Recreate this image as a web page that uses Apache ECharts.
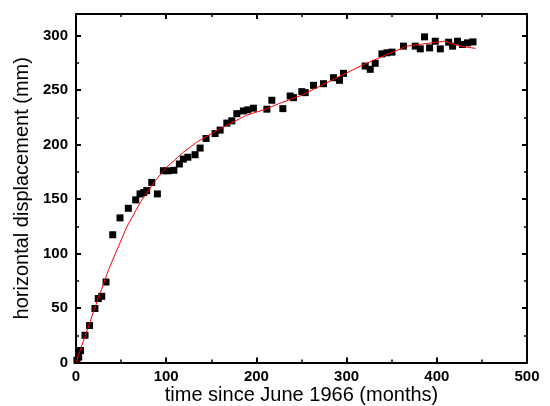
<!DOCTYPE html>
<html>
<head>
<meta charset="utf-8">
<script src="https://cdn.jsdelivr.net/npm/echarts@6/dist/echarts.min.js"></script>
<style>
html,body{margin:0;padding:0;background:#fff;}
#chart{width:550px;height:406px;}
</style>
</head>
<body>
<div id="chart"></div>
<script>
// measured horizontal displacement (mm) vs time (months since June 1966)
var obsMonths = [1, 3, 5, 10, 15, 21, 24.7, 28.5, 33.3, 40.7, 48.8, 58, 66.2, 71, 75, 78.4, 84, 90.2, 96.9, 102, 108.5,
  114.6, 119, 124, 132, 137.6, 144.2, 154.2, 159.8, 167.2, 172.7, 178.3, 185.6, 190.5, 196.7, 211.6, 217.1,
  229.3, 237.4, 241.1, 250.4, 254.1, 263.3, 274.4, 285.5, 292.1, 296.6, 320.6, 326.2, 331.7, 339.2, 344.7,
  350.3, 363.1, 376.1, 381.7, 386.4, 392, 398.3, 403.9, 413.1, 417.5, 423, 428.6, 434.1, 440.1];
var obsValues = [2, 5, 11, 25, 34, 49.6, 58.7, 60.8, 73.9, 117.3, 132.8, 141.6, 149.3, 154.8, 156, 157.8, 165.4, 154.8, 176.1, 176, 176.5,
  182.3, 186.8, 188.5, 190.8, 196.9, 205.7, 210.2, 213.4, 219.8, 221.9, 228.5, 231, 232, 233.5, 232.6, 240.8,
  233.1, 244.7, 243.2, 248.7, 247.8, 254.5, 256, 261.5, 259.1, 265.5, 272.2, 269.2, 274.7, 283.4, 284.4,
  285, 290.5, 290.5, 288, 299, 288.9, 295, 288, 294.1, 290.5, 295, 292, 293.5, 294.4];
// fitted curve (red)
var fitMonths = [0, 10, 20, 36, 56, 72, 88, 100, 119, 135, 152, 170, 189, 208, 226, 249, 282, 315, 345, 367, 389, 408, 426, 443];
var fitValues = [0, 24, 48, 85, 124, 148, 167, 179, 193, 203, 211, 219, 227, 232, 238, 245, 258.5, 272, 283, 290.5, 293, 295, 290.5, 288.4];

var xTicks = {min: 0, max: 500, interval: 100};
var yTicks = {min: 0, max: 320, interval: 50};

var obs = obsMonths.map(function (m, i) { return [m, obsValues[i]]; });
var fit = fitMonths.map(function (m, i) { return [m, fitValues[i]]; });

var chart = echarts.init(document.getElementById('chart'), null, {renderer: 'canvas'});
var font = 'Liberation Sans, Arial, sans-serif';
var lineStyle = {color: '#000', width: 2};
function axisCommon(show) {
  return {
    axisLine: {show: true, onZero: false, lineStyle: lineStyle},
    axisTick: {show: true, inside: true, length: 5, lineStyle: {color: '#000', width: 2}},
    minorTick: {show: true, splitNumber: 2, length: 3, lineStyle: {color: '#000', width: 1.5}},
    splitLine: {show: false},
    axisLabel: {show: show, color: '#000', fontFamily: font, fontSize: 15, fontWeight: 'bold'}
  };
}
var xB = Object.assign({type: 'value', position: 'bottom', min: xTicks.min, max: xTicks.max, interval: xTicks.interval,
  name: 'time since June 1966 (months)', nameLocation: 'middle', nameGap: 23, nameMoveOverlap: false,
  nameTextStyle: {color: '#000', fontFamily: font, fontSize: 20}}, axisCommon(true));
xB.axisLabel.margin = 7;
var xT = Object.assign({type: 'value', position: 'top', min: xTicks.min, max: xTicks.max, interval: xTicks.interval}, axisCommon(false));
var yL = Object.assign({type: 'value', position: 'left', min: yTicks.min, max: yTicks.max, interval: yTicks.interval,
  name: 'horizontal displacement (mm)', nameLocation: 'middle', nameGap: 44, nameMoveOverlap: false,
  nameTextStyle: {color: '#000', fontFamily: font, fontSize: 20}}, axisCommon(true));
yL.axisLabel.showMaxLabel = false;
yL.axisLabel.margin = 8;
var yR = Object.assign({type: 'value', position: 'right', min: yTicks.min, max: yTicks.max, interval: yTicks.interval}, axisCommon(false));

chart.setOption({
  animation: false,
  backgroundColor: '#fff',
  grid: {left: 76, right: 23, top: 14, bottom: 43.5, containLabel: false, outerBoundsMode: 'none'},
  xAxis: [xB, xT],
  yAxis: [yL, yR],
  series: [
    {type: 'scatter', data: obs, symbol: 'rect', symbolSize: 7, itemStyle: {color: '#000', opacity: 1}, xAxisIndex: 0, yAxisIndex: 0, z: 2},
    {type: 'line', data: fit, showSymbol: false, symbol: 'none', lineStyle: {color: '#ff0000', width: 1}, xAxisIndex: 0, yAxisIndex: 0, z: 3}
  ]
});
</script>
</body>
</html>
